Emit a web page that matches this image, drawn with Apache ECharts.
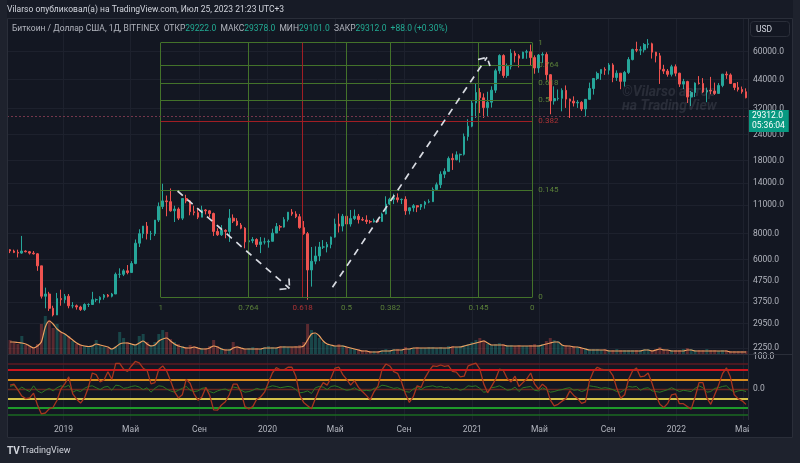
<!DOCTYPE html>
<html><head><meta charset="utf-8">
<script src="https://cdn.jsdelivr.net/npm/echarts@6/dist/echarts.min.js"></script>
<style>html,body{margin:0;padding:0;background:#131722}#c{width:800px;height:463px}</style>
</head><body><div id="c"></div><script>
// ---------- DATA ----------
const weekStart = '2018-09-24'; // first weekly candle (Monday)
// weekly candles [open, high, low, close]
const candles = [
[6700,6750,6450,6600],[6600,6700,6450,6500],[6500,6700,6150,6450],[6450,7800,6400,6600],[6600,6650,6500,6550],
[6550,6600,6350,6450],[6450,6600,6350,6400],[6400,6450,5300,5600],[5600,5600,3900,4000],[4000,4400,3500,4100],
[4100,4200,3400,3500],[3500,3600,3200,3250],[3250,4150,3250,3900],[3900,4300,3600,3850],[3850,4100,3700,4000],
[4000,4100,3500,3600],[3600,3750,3500,3600],[3600,3650,3450,3550],[3550,3600,3400,3450],[3450,3700,3400,3650],
[3650,3700,3550,3650],[3650,4200,3650,3850],[3850,3900,3750,3850],[3850,4000,3700,3950],[3950,4100,3850,4050],
[4050,4100,3950,4000],[4000,4150,3950,4100],[4100,5200,4100,5100],[5100,5450,4900,5100],[5100,5400,5000,5300],
[5300,5650,5100,5200],[5200,5900,5200,5750],[5750,7500,5700,7200],[7200,8400,6900,8000],[8000,8700,7600,8700],
[8700,9100,7500,8000],[8000,8250,7450,8000],[8000,9300,7800,9300],[9300,11300,9100,10800],[10800,13900,10500,11500],
[11500,12200,9700,11400],[11400,13200,10200,10300],[10300,10900,9100,10500],[10500,10700,9300,9500],[9500,11800,9300,11800],
[11800,12300,11200,11500],[11500,11600,9800,10200],[10200,10900,9800,10100],[10100,10500,9400,9600],[9600,10900,9600,10400],
[10400,10500,9900,10300],[10300,10400,9600,10000],[10000,10100,7800,8200],[8200,8500,7800,7900],[7900,8800,7800,8300],
[8300,8400,7600,8200],[8200,10500,7300,9500],[9500,9900,9000,9200],[9200,9500,8700,8800],[8800,9000,8400,8500],
[8500,8600,6800,7300],[7300,7900,6500,7400],[7400,7700,7200,7500],[7500,7600,6900,7100],[7100,7700,6450,7300],
[7300,7650,7100,7300],[7300,7500,6850,7350],[7350,8450,7350,8050],[8050,9000,8050,8650],[8650,8800,8250,8600],
[8600,9600,8550,9350],[9350,10150,9150,10150],[10150,10500,9750,9950],[9950,10250,9500,9650],[9650,9950,8450,8550],
[8550,9200,7900,8000],[8000,8150,3850,5350],[5350,6900,4450,5900],[5900,6950,5700,6250],[6250,7300,5900,6900],
[6900,7450,6750,6900],[6900,7300,6500,7100],[7100,7750,6800,7700],[7700,9450,7650,8900],[8900,10000,8100,8700],
[8700,9950,8200,9700],[9700,9850,8800,8900],[8900,10400,8650,9450],[9450,10450,9300,9700],[9700,9950,8950,9350],
[9350,9600,9200,9300],[9300,9800,8900,9150],[9150,9300,8950,9100],[9100,9450,9050,9250],[9250,9300,9050,9150],
[9150,10100,9150,9950],[9950,12100,9900,11100],[11100,11900,11000,11700],[11700,12450,11100,11900],[11900,12500,11300,11650],
[11650,11800,11100,11700],[11700,12100,9850,10300],[10300,10700,9900,10650],[10650,11100,10200,10900],[10900,10950,10150,10750],
[10750,11100,10400,11050],[11050,11500,10550,11350],[11350,11700,11200,11400],[11400,13350,11400,13050],[13050,14100,12900,13750],
[13750,15950,13250,15450],[15450,16500,14800,15950],[15950,18800,15900,18400],[18400,19450,16200,18150],[18150,19900,18000,19150],
[19150,19400,17600,19250],[19250,24250,19000,23450],[23450,28400,22400,26300],[26300,34800,26000,34000],[34000,42000,28800,38200],
[38200,40100,30400,36000],[36000,37800,28800,32300],[32300,38500,29300,34300],[34300,40900,32300,39200],[39200,49700,38000,48600],
[48600,58300,47000,57500],[57500,58300,44900,46100],[46100,52600,45000,51000],[51000,61700,49300,59000],[59000,60600,53300,57400],
[57400,58400,50400,55800],[55800,60000,55400,59700],[59700,61300,55500,60000],[60000,64900,51500,56200],[56200,57600,47000,50100],
[50100,58500,47500,57800],[57800,59600,53000,58200],[58200,59600,43900,46500],[46500,46800,30000,34800],[34800,40900,33400,35700],
[35700,39500,34900,35800],[35800,40000,31000,39100],[39100,41300,32200,35500],[35500,35700,28800,34700],[34700,36600,32700,34000],
[34000,35100,32200,34250],[34250,34700,31100,31800],[31800,35400,29300,35400],[35400,42600,35300,39900],[39900,44800,37300,44600],
[44600,48100,43800,47100],[47100,49300,43900,49300],[49300,50500,46400,48900],[48900,52900,46600,51800],[51800,52800,42800,45100],
[45100,48800,43400,47300],[47300,47400,39600,43200],[43200,48500,40800,47700],[47700,56500,46900,55000],[55000,62000,54500,61500],
[61500,67000,59700,61000],[61000,63700,57800,61300],[61300,66000,59500,65000],[65000,69000,62300,65500],[65500,66300,55600,59700],
[59700,59900,53300,57300],[57300,59200,42000,49400],[49400,51900,46900,48400],[48400,49500,45500,46700],[46700,51900,45600,50800],
[50800,52100,45700,47300],[47300,47500,40600,41900],[41900,44400,39700,43100],[43100,43500,34000,36300],[36300,38900,32900,38200],
[38200,42700,36300,42400],[42400,45800,41700,42200],[42200,44800,38000,38400],[38400,40300,34300,39100],[39100,45400,37500,38800],
[38800,42600,37200,37800],[37800,42400,37600,41300],[41300,46900,40500,46800],[46800,48200,44400,46400],[46400,47200,42100,42200],
[42200,42400,39200,40400],[40400,42900,38600,39500],[39500,40800,37700,38500],[38500,40000,35800,36040]
];
const volume = [14,12,10,18,9,8,7,10,30,38, 34,26,30,22,20,18,13,10,9,8, 7,9,14,8,7,6,5,8,22,16,
12,10,10,18,20,12,9,12,20,24, 22,15,12,10,8,7,9,8,6,6, 6,8,14,8,6,5,5,12,8,6, 5,6,7,6,5,7,8,7,6,8,
8,7,7,8,9,12,30,24,20,16, 12,9,9,8,10,9,7,6,5,5, 4,4,3,3,3,4,5,4,5,5, 4,7,5,6,7,6,6,7,7,6,
7,6,8,8,7,8,9,10,12,14, 16,14,10,9,10,11,10,9,9,8, 9,8,8,9,10,9,10,13,16,14, 13,9,9,8,8,7,6,6,5,5,
5,4,5,4,4,5,4,4,4,4, 4,4,5,5,4,5,7,5,4,4, 4,4,5,6,5,4,4,4,5,4, 4,3,4,4,3,3,3,3,3];
const volumeMA = [12,12,11.5,11,10,8,6,8,12,27, 33,30,25,22,20,17,14,11,9,8, 7.5,8,10,9,8,7,5,7,10,11,
11,10,9,11,13,10,8,9,13,15, 16,13,10,8,7,6,6,7,6,5, 5,6,8,7,5,4,4,6,7,6, 5,5,5,5,5,6,6,6,6,7,
7,7,7,7,7,8,14,20,21,18, 13,10,9,8,8,8,7,6,5,4, 3,3,2,2,2,3,3,3,4,4, 4,5,5,6,6,6,6,6,6,6,
6,6,6,7,7,7,8,9,10,11, 12,13,11,9,9,9,9,8,8,8, 8,8,8,8,8,8,9,10,11,12, 12,9,8,8,7,7,6,5,4,4,
4,4,4,3,3,3,3,3,3,3, 3,3,4,4,3,4,5,4,4,3, 3,3,3,4,4,3,3,3,3,3, 3,3,3,3,2,2,2,2,2];
const oscMain = [12,15,-3,-22,-30,-28,-13,-50,-78,-75, -62,-57,-35,0,17,38,-15,-32,-44,-28, 5,50,45,22,28,54,30,80,80,62,
55,72,86,82,65,58,16,20,62,72, 56,26,-8,-28,-18,30,18,-15,-35,-25, 5,-20,-65,-66,-50,-40,-18,15,15,-10,
-55,-62,-55,-32,-25,-10,20,50,67,60, 60,68,68,40,-20,-42,-52,-62,-30,0, 20,12,35,65,68,45,30,12,26,5,
-8,-20,-34,-8,10,60,78,72,54,49, 22,-15,-42,-24,10,5,35,56,72,71, 75,71,73,55,53,38,40,72,77,81,
62,16,-12,8,30,62,58,33,22,40, 8,20,32,50,15,0,15,5,-34,-53, -48,-38,-30,-6,-20,-30,-45,-40,25,55,
68,62,60,60,42,2,-29,-18,30,56, 66,38,40,50,18,-20,-48,-58,-45,-18, -15,-46,-46,-55,-63,-25,20,20,-28,-48,
-18,12,48,66,38,-18,-30,-37,-48];
const oscSignal = [8,12,-4,6,-2,-8,10,-6,-12,-4, 2,-6,4,10,6,12,-10,-4,-8,2, 8,10,4,-2,6,8,-4,12,10,2,
4,8,10,6,-2,4,-10,2,10,8, 0,-6,-10,-4,2,8,-4,-8,-6,2, 4,-8,-12,-6,-2,0,-6,6,4,-4, -10,-8,-4,2,-2,0,6,10,8,4,
6,8,6,-2,-12,-10,-6,-14,4,8, 6,-2,8,10,6,0,-4,-2,4,-4, -6,-4,-6,2,4,12,10,6,2,4, -2,-8,-10,0,6,-2,6,8,10,6,
8,4,6,-2,2,-4,0,10,8,10, 2,-10,-8,4,6,10,4,-4,-2,6, -8,4,6,8,-4,-6,4,-2,-10,-8, -4,-2,2,4,-4,-2,-8,-4,10,8,
6,2,4,2,-2,-8,-10,-2,8,6, 8,-4,2,4,-6,-8,-10,-6,-2,4, -2,-8,-4,-6,-8,2,10,4,-10,-8, 2,4,8,10,-2,-10,-6,-4,-8];
const priceTicks = [60000,44000,32000,24000,18000,14000,11000,8000,6000,4750,3750,2950,2250];
const timeTicks = ['2019-01-01','2019-05-01','2019-09-01','2020-01-01','2020-05-01','2020-09-01','2021-01-01','2021-05-01','2021-09-01','2022-01-01','2022-05-01'];
const timeTickNames = ['2019','Май','Сен','2020','Май','Сен','2021','Май','Сен','2022','Май'];
const oscLevels = [80,60,30,0,-30,-60,-80];
const oscLevelColors = ['#5e1a22','#cc161d','#d68a1e','#6a2820','#d4c24a','#1e9a2a','#1b6a22'];
const oscLevelWidths = [1.6,2,2,1.4,2,2,1.6];
const oscTicks = [0,100];
const fibLevels = [1,0.764,0.618,0.5,0.382,0.145,0];
const fibTimeA = '2019-06-23T21:00', fibTimeB = '2021-04-18T09:00';
const fibPriceLow = 3953, fibPriceHigh = 66290;
const arrow1 = [['2019-07-24T00:00',12830],['2020-02-09T05:00',4358]];
const arrow1Head = [['2020-01-22T07:00',4319],['2020-02-09T05:00',4358],['2020-02-08T07:00',4868]];
const arrow2 = [['2020-04-26T00:00',4416],['2021-01-27T10:00',56393]];
const arrow2Head = [['2021-01-11T07:00',55034],['2021-01-27T10:00',56393],['2021-02-01T17:00',51220]];
const lastPrice = 29312, markedPrice = 36040;
const viewStart = '2018-09-22T00:00', viewEnd = '2022-05-09T02:00';

// ---------- HELPERS ----------
function ts(s){const [d,t]=s.split('T');const [y,m,dd]=d.split('-').map(Number);let h=0,mi=0;if(t){[h,mi]=t.split(':').map(Number);}return Date.UTC(y,m-1,dd,h,mi);}
const DAY = 86400000;
const t0 = ts(weekStart);
const candleTime = i => t0 + i*7*DAY + 3.5*DAY;
const tMin = ts(viewStart), tMax = ts(viewEnd);
const tickTs = timeTicks.map(ts);
const nameOf = v => { let best=0,bd=Infinity; tickTs.forEach((t,i)=>{const d=Math.abs(t-v); if(d<bd){bd=d;best=i;}}); return timeTickNames[best]; };
const FONT = 'Roboto';
const LBL = '#b2b5be';
const GRIDC = '#1d212d';
const UP = '#26a69a', DOWN = '#ef5350';
const GREEN_LINE = '#43722a', GREEN_TXT = '#6c9a3e', RED_LINE = '#a01e24', RED_TXT = '#d23a3a';

const tA = ts(fibTimeA), tB = ts(fibTimeB);
const fibT = l => tB - l*(tB - tA);
const fibP = l => fibPriceLow + l*(fibPriceHigh - fibPriceLow);
const fibLineData = [], fibLabelData = [];
fibLevels.forEach(l => {
  fibLineData.push({coords:[[tA,fibP(l)],[tB,fibP(l)]], lineStyle:{color: l===0.382?RED_LINE:GREEN_LINE}});
  fibLineData.push({coords:[[fibT(l),fibPriceLow],[fibT(l),fibPriceHigh]], lineStyle:{color: l===0.618?RED_LINE:GREEN_LINE}});
  fibLabelData.push({value:[fibT(l),fibPriceLow], label:{formatter:String(l), position:'bottom', distance:7, color: l===0.618?RED_TXT:GREEN_TXT}});
  fibLabelData.push({value:[tB,fibP(l)], label:{formatter:String(l), position:'right', distance:6, color: l===0.382?RED_TXT:GREEN_TXT}});
});
const toPts = arr => arr.map(p => [ts(p[0]), p[1]]);

function timeAxis(gi, show){
  return {type:'value', gridIndex:gi, min:tMin, max:tMax,
    axisLine:{show:false}, axisTick:{show:false, customValues:tickTs},
    axisLabel:{show:show, customValues:tickTs, formatter:v=>nameOf(v), color:LBL, fontSize:8.5, fontFamily:FONT, margin:5},
    splitLine:{show:gi!==1, lineStyle:{color:GRIDC, width:1}}};
}

const chart = echarts.init(document.getElementById('c'), null, {renderer:'canvas'});
chart.setOption({
  animation:false, backgroundColor:'#131722',
  textStyle:{fontFamily:FONT},
  grid:[
    {left:7, right:52, top:18, height:336},
    {left:7, right:52, top:294, height:60},
    {left:7, right:52, top:354, height:66}
  ],
  xAxis:[timeAxis(0,false), timeAxis(1,false), timeAxis(2,true)],
  yAxis:[
    {type:'log', gridIndex:0, position:'right', min:2110, max:87140,
      axisLine:{show:false}, axisTick:{show:false, customValues:priceTicks},
      axisLabel:{customValues:priceTicks, formatter:v=>Number(v).toFixed(1), color:LBL, fontSize:8.5, fontFamily:FONT, margin:5},
      splitLine:{show:true, lineStyle:{color:GRIDC}}},
    {type:'value', gridIndex:1, min:0, max:60, show:false},
    {type:'value', gridIndex:2, position:'right', min:-96.875, max:109.375,
      axisLine:{show:false}, axisTick:{show:false, customValues:oscTicks},
      axisLabel:{customValues:oscTicks, formatter:v=>Number(v).toFixed(1), color:LBL, fontSize:8.5, fontFamily:FONT, margin:5},
      splitLine:{show:false}}
  ],
  series:[
    {type:'bar', xAxisIndex:1, yAxisIndex:1, z:1, barWidth:3,
      data: volume.map((v,i)=>({value:[candleTime(i), v], itemStyle:{color: candles[i][3]>=candles[i][0]?'rgba(38,166,154,0.33)':'rgba(239,83,80,0.33)'}}))},
    {type:'line', xAxisIndex:1, yAxisIndex:1, z:2, showSymbol:false, smooth:0.3,
      lineStyle:{color:'#f0a060', width:1.2}, data: volumeMA.map((v,i)=>[candleTime(i), v])},
    {type:'candlestick', xAxisIndex:0, yAxisIndex:0, z:3, barWidth:'55%',
      encode:{x:0, y:[1,2,3,4]},
      itemStyle:{color:UP, color0:DOWN, borderColor:UP, borderColor0:DOWN, borderWidth:1},
      data: candles.map((c,i)=>[candleTime(i), c[0], c[3], c[2], c[1]]),
      markLine:{symbol:['none','none'], silent:true, animation:false,
        data:[
          {yAxis:lastPrice, lineStyle:{color:'#74364a', type:[2,2], width:1},
            label:{show:true, position:'end', distance:0, formatter:lastPrice.toFixed(1)+'\n05:36:04', color:'#ffffff', backgroundColor:'#089981',
              padding:[1,4,1,4], lineHeight:10, fontSize:8.5, fontFamily:FONT, offset:[0,4.5]}},
          {yAxis:markedPrice, lineStyle:{opacity:0},
            label:{show:true, position:'end', distance:0, formatter:markedPrice.toFixed(1), color:'#f23645', backgroundColor:'#131722',
              borderColor:'#b2283a', borderWidth:1, borderRadius:2, padding:[2,5,1,5], fontSize:8.5, fontFamily:FONT}}
        ]}},
    {type:'lines', coordinateSystem:'cartesian2d', xAxisIndex:0, yAxisIndex:0, z:4, silent:true,
      lineStyle:{width:1, opacity:1}, data: fibLineData},
    {type:'scatter', xAxisIndex:0, yAxisIndex:0, z:4, symbolSize:0.1, silent:true, itemStyle:{color:'transparent'},
      label:{show:true, fontSize:8, fontFamily:FONT}, data: fibLabelData},
    {type:'lines', coordinateSystem:'cartesian2d', xAxisIndex:0, yAxisIndex:0, z:5, silent:true, polyline:true,
      lineStyle:{color:'#d8dbe2', width:1.7, type:[7,6], opacity:1},
      data:[{coords:toPts(arrow1)},{coords:toPts(arrow1Head)},{coords:toPts(arrow2)},{coords:toPts(arrow2Head)}]},
    {type:'lines', coordinateSystem:'cartesian2d', xAxisIndex:2, yAxisIndex:2, z:1, silent:true,
      data: oscLevels.map((l,i)=>({coords:[[tMin,l],[tMax,l]], lineStyle:{color:oscLevelColors[i], width:oscLevelWidths[i], opacity:1}}))},
    {type:'line', xAxisIndex:2, yAxisIndex:2, z:2, showSymbol:false, lineStyle:{color:'#2e7a22', width:1},
      data: oscSignal.map((v,i)=>[candleTime(i), v])},
    {type:'line', xAxisIndex:2, yAxisIndex:2, z:3, showSymbol:false, lineStyle:{color:'#a8351e', width:1.3},
      data: oscMain.map((v,i)=>[candleTime(i), v])}
  ],
  graphic:[
    {type:'rect', z:40, shape:{x:749, y:421, width:44, height:16}, style:{fill:'#131722'}},
    {type:'rect', z:50, shape:{x:0, y:0, width:800, height:18}, style:{fill:'#171b26'}},
    {type:'rect', z:50, shape:{x:0, y:0, width:7, height:463}, style:{fill:'#1e222d'}},
    {type:'rect', z:50, shape:{x:793, y:0, width:7, height:463}, style:{fill:'#1e222d'}},
    {type:'rect', z:50, shape:{x:0, y:438, width:800, height:25}, style:{fill:'#1e222d'}},
    {type:'rect', z:51, shape:{x:7.5, y:18.5, width:785, height:419}, style:{fill:'none', stroke:'#2a2e39', lineWidth:1}},
    {type:'line', z:51, shape:{x1:748.5, y1:18, x2:748.5, y2:420}, style:{stroke:'#2a2e39', lineWidth:1}},
    {type:'line', z:51, shape:{x1:7, y1:354.5, x2:793, y2:354.5}, style:{stroke:'#2a2e39', lineWidth:1}},
    {type:'text', z:60, x:7, y:10, style:{text:'Vilarso опубликовал(а) на TradingView.com, Июл 25, 2023 21:23 UTC+3', fill:'#d1d4dc', fontSize:8.5, fontFamily:FONT, verticalAlign:'middle'}},
    {type:'text', z:60, x:12, y:29, style:{verticalAlign:'middle', fontSize:8.5, fontFamily:FONT,
      text:'{g|Биткоин / Доллар США, 1Д, BITFINEX  ОТКР}{v|29222.0}{g|  МАКС}{v|29378.0}{g|  МИН}{v|29101.0}{g|  ЗАКР}{v|29312.0}{v|  +88.0 (+0.30%)}',
      rich:{g:{fill:'#b2b5be', fontSize:8.5, fontFamily:FONT}, v:{fill:'#22ab94', fontSize:8.5, fontFamily:FONT}}}},
    {type:'rect', z:60, shape:{x:750.5, y:21.5, width:39, height:15, r:3}, style:{fill:'#131722', stroke:'#2a2e39', lineWidth:1}},
    {type:'text', z:61, x:756, y:29.5, style:{text:'USD', fill:'#d1d4dc', fontSize:8.5, fontFamily:FONT, verticalAlign:'middle'}},
    {type:'text', z:6, x:622, y:92, style:{text:'©Vilarso автор', fill:'rgba(190,195,210,0.13)', fontSize:14, fontStyle:'italic', fontWeight:'bold', fontFamily:FONT, verticalAlign:'middle'}},
    {type:'text', z:6, x:622, y:106, style:{text:'на TradingView', fill:'rgba(190,195,210,0.13)', fontSize:14, fontStyle:'italic', fontWeight:'bold', fontFamily:FONT, verticalAlign:'middle'}},
    {type:'text', z:60, x:7, y:451, style:{text:'TV', fill:'#d1d4dc', fontSize:10, fontWeight:'bold', fontFamily:FONT, verticalAlign:'middle'}},
    {type:'text', z:60, x:21, y:451, style:{text:'TradingView', fill:'#d1d4dc', fontSize:9, fontFamily:FONT, verticalAlign:'middle'}}
  ]
});
</script></body></html>
